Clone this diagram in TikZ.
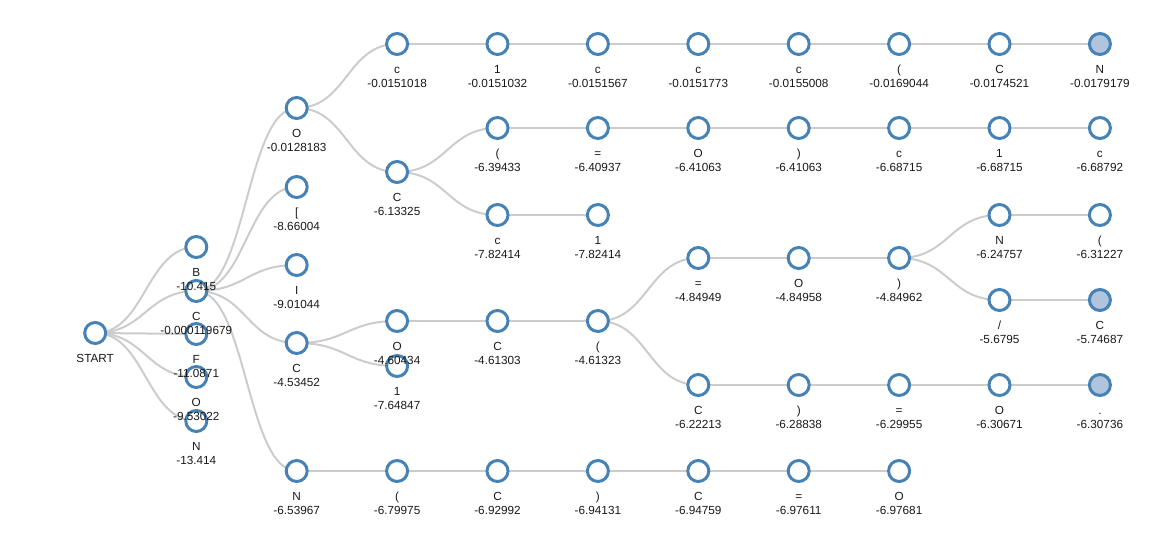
\documentclass[tikz,border=0pt]{standalone}
\usepackage{fontspec}
\setmainfont{Liberation Sans}
\usetikzlibrary{calc}
\definecolor{steel}{RGB}{70,130,180}
\definecolor{lsteel}{RGB}{176,196,222}
\definecolor{edgec}{RGB}{204,204,204}
\pgfdeclarelayer{bg}
\pgfdeclarelayer{fg}
\pgfsetlayers{bg,main,fg}
\tikzset{
  tnode/.style={circle, draw=steel, line width=3bp, fill=white, minimum size=21bp, inner sep=0pt},
  leaf/.style={fill=lsteel},
  plain/.style={},
  lbl/.style={font=\fontsize{11.8}{13}\selectfont, text=black!90, inner sep=0pt, anchor=base},
  edge/.style={draw=edgec, line width=2bp}
}
\newcommand\tn[6]{%
  \node[tnode,#6] (#1) at ({95.9+100.4*#2},#3) {};
  \begin{pgfonlayer}{fg}
    \node[lbl] (#1-n) at ({95.9+100.4*#2},{#3+29.5}) {#4};
    \node[lbl] (#1-v) at ({95.9+100.4*#2},{#3+43.5}) {#5};
  \end{pgfonlayer}}
\newcommand\ed[2]{%
  \begin{pgfonlayer}{bg}
    \draw[edge] (#1.center) to[out=0,in=180,distance=50.2bp] (#2.center);
  \end{pgfonlayer}}
\begin{document}
\begin{tikzpicture}[x=1bp,y=-1bp]
\useasboundingbox (0,0) rectangle (1162,547);
% root
\node[tnode] (S) at (95.2,333) {};
\begin{pgfonlayer}{fg}
\node[lbl] (S-n) at (95.2,363) {START};
\end{pgfonlayer}
% level 1
\tn{B}{1}{247}{B}{-10.415}{plain}
\tn{C1}{1}{291}{C}{-0.000119679}{plain}
\tn{F}{1}{334}{F}{-11.0871}{plain}
\tn{O1}{1}{377}{O}{-9.53022}{plain}
\tn{N1}{1}{421}{N}{-13.414}{plain}
% level 2
\tn{a1}{2}{108}{O}{-0.0128183}{plain}
\tn{a2}{2}{187}{[}{-8.66004}{plain}
\tn{a3}{2}{265}{I}{-9.01044}{plain}
\tn{a4}{2}{343}{C}{-4.53452}{plain}
\tn{a5}{2}{471}{N}{-6.53967}{plain}
% top chain
\tn{t3}{3}{44}{c}{-0.0151018}{plain}
\tn{t4}{4}{44}{1}{-0.0151032}{plain}
\tn{t5}{5}{44}{c}{-0.0151567}{plain}
\tn{t6}{6}{44}{c}{-0.0151773}{plain}
\tn{t7}{7}{44}{c}{-0.0155008}{plain}
\tn{t8}{8}{44}{(}{-0.0169044}{plain}
\tn{t9}{9}{44}{C}{-0.0174521}{plain}
\tn{t10}{10}{44}{N}{-0.0179179}{leaf}
% C under O
\tn{b3}{3}{172}{C}{-6.13325}{plain}
\tn{r4}{4}{128}{(}{-6.39433}{plain}
\tn{r5}{5}{128}{=}{-6.40937}{plain}
\tn{r6}{6}{128}{O}{-6.41063}{plain}
\tn{r7}{7}{128}{)}{-6.41063}{plain}
\tn{r8}{8}{128}{c}{-6.68715}{plain}
\tn{r9}{9}{128}{1}{-6.68715}{plain}
\tn{r10}{10}{128}{c}{-6.68792}{plain}
\tn{s4}{4}{215}{c}{-7.82414}{plain}
\tn{s5}{5}{215}{1}{-7.82414}{plain}
% middle
\tn{m3}{3}{321}{O}{-4.60434}{plain}
\tn{n3}{3}{366}{1}{-7.64847}{plain}
\tn{m4}{4}{321}{C}{-4.61303}{plain}
\tn{m5}{5}{321}{(}{-4.61323}{plain}
\tn{u6}{6}{258}{=}{-4.84949}{plain}
\tn{u7}{7}{258}{O}{-4.84958}{plain}
\tn{u8}{8}{258}{)}{-4.84962}{plain}
\tn{v9}{9}{215}{N}{-6.24757}{plain}
\tn{v10}{10}{215}{(}{-6.31227}{plain}
\tn{w9}{9}{300}{/}{-5.6795}{plain}
\tn{w10}{10}{300}{C}{-5.74687}{leaf}
\tn{d6}{6}{385}{C}{-6.22213}{plain}
\tn{d7}{7}{385}{)}{-6.28838}{plain}
\tn{d8}{8}{385}{=}{-6.29955}{plain}
\tn{d9}{9}{385}{O}{-6.30671}{plain}
\tn{d10}{10}{385}{.}{-6.30736}{leaf}
% bottom
\tn{e3}{3}{471}{(}{-6.79975}{plain}
\tn{e4}{4}{471}{C}{-6.92992}{plain}
\tn{e5}{5}{471}{)}{-6.94131}{plain}
\tn{e6}{6}{471}{C}{-6.94759}{plain}
\tn{e7}{7}{471}{=}{-6.97611}{plain}
\tn{e8}{8}{471}{O}{-6.97681}{plain}
% edges
\ed{S}{B}\ed{S}{C1}\ed{S}{F}\ed{S}{O1}\ed{S}{N1}
\ed{C1}{a1}\ed{C1}{a2}\ed{C1}{a3}\ed{C1}{a4}\ed{C1}{a5}
\ed{a1}{t3}\ed{t3}{t4}\ed{t4}{t5}\ed{t5}{t6}\ed{t6}{t7}\ed{t7}{t8}\ed{t8}{t9}\ed{t9}{t10}
\ed{a1}{b3}
\ed{b3}{r4}\ed{r4}{r5}\ed{r5}{r6}\ed{r6}{r7}\ed{r7}{r8}\ed{r8}{r9}\ed{r9}{r10}
\ed{b3}{s4}\ed{s4}{s5}
\ed{a4}{m3}\ed{a4}{n3}
\ed{m3}{m4}\ed{m4}{m5}
\ed{m5}{u6}\ed{u6}{u7}\ed{u7}{u8}
\ed{u8}{v9}\ed{v9}{v10}
\ed{u8}{w9}\ed{w9}{w10}
\ed{m5}{d6}\ed{d6}{d7}\ed{d7}{d8}\ed{d8}{d9}\ed{d9}{d10}
\ed{a5}{e3}\ed{e3}{e4}\ed{e4}{e5}\ed{e5}{e6}\ed{e6}{e7}\ed{e7}{e8}
\end{tikzpicture}
\end{document}
